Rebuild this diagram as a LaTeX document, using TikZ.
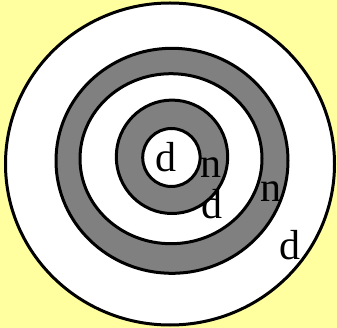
\documentclass[tikz,border=0pt]{standalone}
\usepackage{fontspec}
\setmainfont{Liberation Serif}
\definecolor{bgyellow}{RGB}{255,255,160}
\definecolor{ringgray}{RGB}{128,128,128}
\tikzset{
  ringline/.style={draw=black, line width=3pt},
  lbl/.style={font=\fontsize{42}{42}\selectfont, anchor=base, inner sep=0pt}
}
\begin{document}
\begin{tikzpicture}[x=1pt,y=-1pt]
\fill[bgyellow] (0,0) rectangle (337,328);
\useasboundingbox (0,0) rectangle (337,328);
\path[ringline, fill=white] (170,164) ellipse [x radius=164.5, y radius=161];
\path[ringline, fill=ringgray] (172,160.8) ellipse [x radius=116, y radius=112.5];
\path[ringline, fill=white] (171,158.7) ellipse [x radius=91, y radius=85];
\path[ringline, fill=ringgray] (172,156.8) ellipse [x radius=55.7, y radius=56.7];
\path[ringline, fill=white] (171.4,157.5) ellipse [x radius=28.7, y radius=29];
\node[lbl] (d1) at (166,172) {d};
\node[lbl] (n1) at (211,178) {n};
\node[lbl] (d2) at (212,219) {d};
\node[lbl] (n2) at (271,202) {n};
\node[lbl] (d3) at (290,260) {d};
\end{tikzpicture}
\end{document}
